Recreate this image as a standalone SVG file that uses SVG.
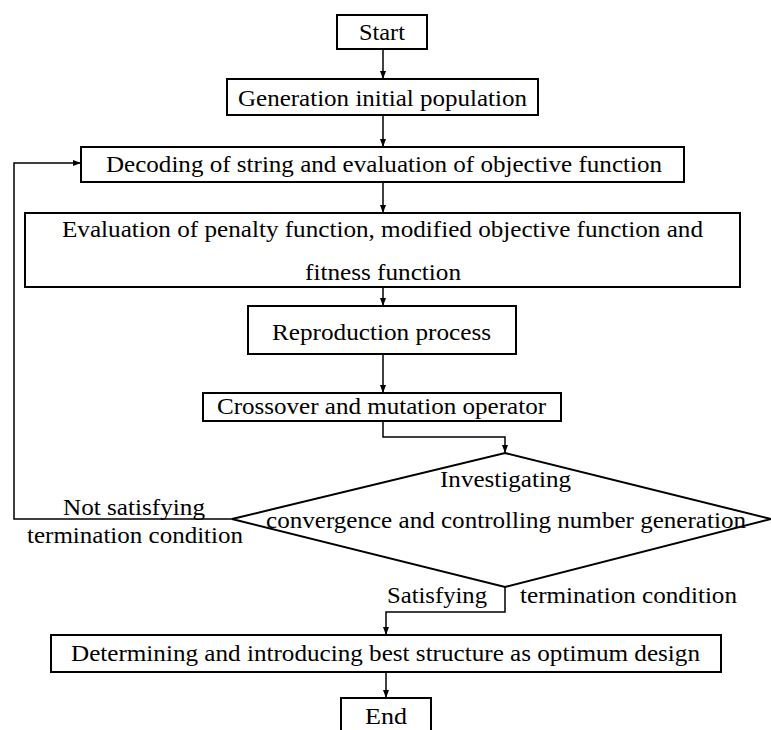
<svg xmlns="http://www.w3.org/2000/svg" width="771" height="730" viewBox="0 0 771 730">
<style>
.box{fill:#fff;stroke:#000;stroke-width:2}
.ln{fill:none;stroke:#000;stroke-width:1.5}
.t{font-family:'Liberation Serif','Times New Roman',Times,serif;font-size:24px;fill:#000}
</style>
<defs>
<marker id="ah" viewBox="0 0 8 8" refX="8" refY="4" markerWidth="8" markerHeight="8" markerUnits="userSpaceOnUse" orient="auto">
<path d="M0,1 L8,4 L0,7 Z" fill="#000"/>
</marker>
</defs>
<rect width="771" height="730" fill="#fff"/>
<g id="connectors">
<path class="ln" d="M383,49 V79" marker-end="url(#ah)"/>
<path class="ln" d="M383,115 V147" marker-end="url(#ah)"/>
<path class="ln" d="M383,182 V213" marker-end="url(#ah)"/>
<path class="ln" d="M383,287 V306" marker-end="url(#ah)"/>
<path class="ln" d="M383,354 V393" marker-end="url(#ah)"/>
<path class="ln" d="M383,421 V437 H505 V453" marker-end="url(#ah)"/>
<path class="ln" d="M232,519 H14 V163 H81" marker-end="url(#ah)"/>
<path class="ln" d="M505,587 V612 H386 V635" marker-end="url(#ah)"/>
<path class="ln" d="M386,672 V698" marker-end="url(#ah)"/>
</g>
<g class="t" font-family="Liberation Serif">
<g id="start"><rect class="box" x="337" y="15" width="90" height="34"/><text x="359" y="40" textLength="46" lengthAdjust="spacingAndGlyphs">Start</text></g>
<g id="init"><rect class="box" x="227" y="79" width="311" height="36"/><text x="238" y="106" textLength="289" lengthAdjust="spacingAndGlyphs">Generation initial population</text></g>
<g id="decode"><rect class="box" x="81" y="147" width="603" height="35"/><text x="106" y="172" textLength="556" lengthAdjust="spacingAndGlyphs">Decoding of string and evaluation of objective function</text></g>
<g id="penalty"><rect class="box" x="25" y="213" width="715" height="74"/><text x="62" y="237" textLength="641" lengthAdjust="spacingAndGlyphs">Evaluation of penalty function, modified objective function and</text><text x="305" y="280" textLength="156" lengthAdjust="spacingAndGlyphs">fitness function</text></g>
<g id="reproduction"><rect class="box" x="248" y="306" width="268" height="48"/><text x="272" y="340" textLength="219" lengthAdjust="spacingAndGlyphs">Reproduction process</text></g>
<g id="crossover"><rect class="box" x="203" y="393" width="358" height="28"/><text x="217" y="414" textLength="329" lengthAdjust="spacingAndGlyphs">Crossover and mutation operator</text></g>
<g id="decision"><path class="box" d="M505,453 L771,519 L505,587 L232,519 Z"/><text x="440" y="487" textLength="131" lengthAdjust="spacingAndGlyphs">Investigating</text><text x="266" y="528" textLength="480" lengthAdjust="spacingAndGlyphs">convergence and controlling number generation</text></g>
<g id="labels"><text x="63" y="515" textLength="142" lengthAdjust="spacingAndGlyphs">Not satisfying</text><text x="27" y="543" textLength="216" lengthAdjust="spacingAndGlyphs">termination condition</text><text x="387" y="603" textLength="100" lengthAdjust="spacingAndGlyphs">Satisfying</text><text x="520" y="603" textLength="217" lengthAdjust="spacingAndGlyphs">termination condition</text></g>
<g id="best"><rect class="box" x="51" y="635" width="670" height="37"/><text x="71" y="661" textLength="629" lengthAdjust="spacingAndGlyphs">Determining and introducing best structure as optimum design</text></g>
<g id="end"><rect class="box" x="341" y="698" width="90" height="40"/><text x="365" y="724" textLength="42" lengthAdjust="spacingAndGlyphs">End</text></g>
</g>
</svg>
